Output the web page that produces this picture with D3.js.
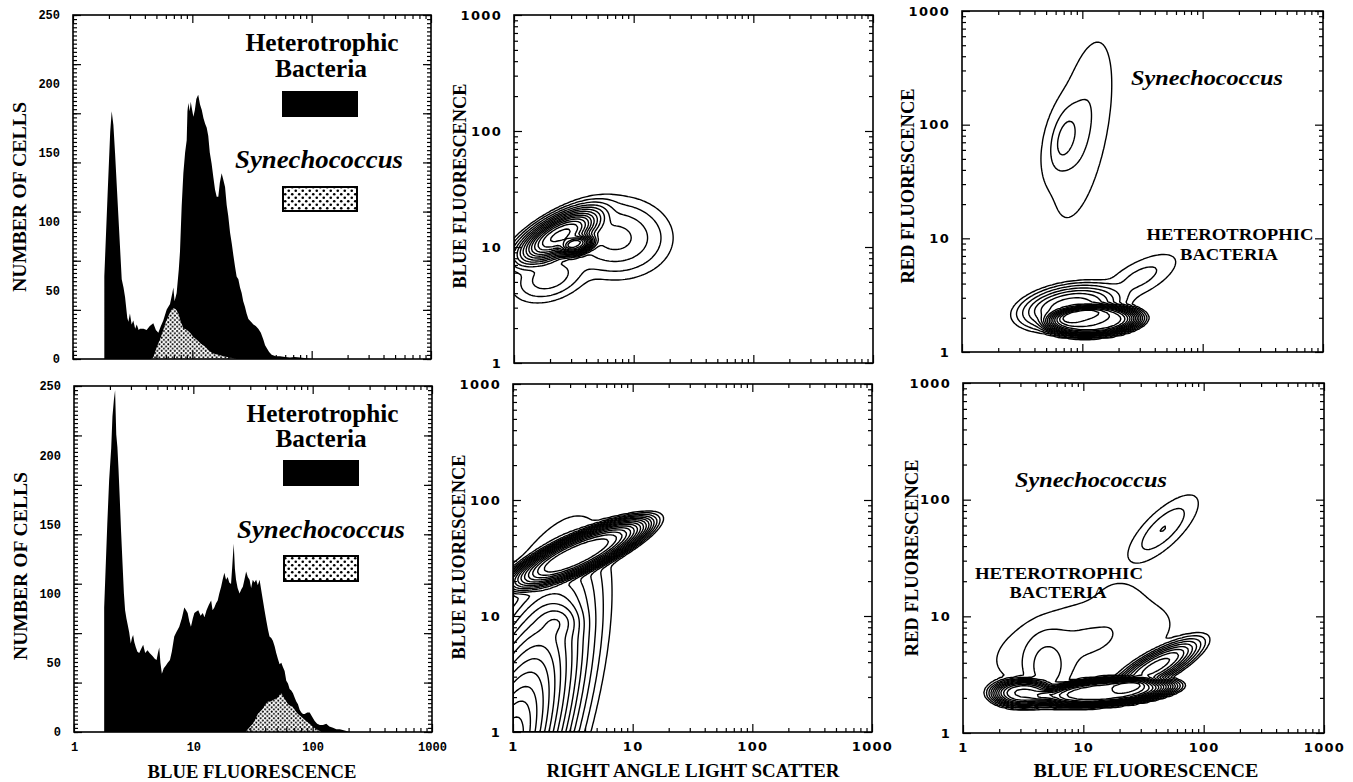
<!DOCTYPE html>
<meta charset="utf-8">
<style>
  body { margin: 0; background: #fff; }
  .tick line { stroke: #000; stroke-width: 1.2px; }
  .lab text { font-family: "Liberation Mono", monospace; font-weight: bold; fill: #000; }
  .lab2 text { font-family: "DejaVu Sans", sans-serif; font-weight: bold; fill: #000; letter-spacing: 1.3px; }
  .title { font-family: "Liberation Serif", serif; font-weight: bold; font-size: 19px; }
  .legend { font-family: "Liberation Serif", serif; font-weight: bold; }
  .contour { fill: none; stroke: #000; stroke-width: 1.4px; stroke-linejoin: round; }
</style>
<svg width="1353" height="782" id="fig"></svg>
<script src="https://d3js.org/d3.v7.min.js"></script>
<script>
// ---- histogram data: [blue fluorescence, number of cells] ----
var histTopTotal = [[1.83,0],[1.83,60],[1.95,120],[2.05,165],[2.11,180],[2.18,170],[2.25,150],[2.40,104],[2.56,58],[2.65,52],[2.73,45],[2.85,30],[2.91,27],[3.0,33],[3.1,25],[3.2,28],[3.32,22],[3.42,25],[3.55,21],[3.64,22],[3.9,22],[4.14,21],[4.4,24],[4.71,26],[4.95,21],[5.19,19],[5.45,24],[5.71,28],[6.1,36],[6.5,40],[6.8,48],[6.93,52],[7.1,42],[7.39,48],[7.7,65],[7.88,78],[8.14,111],[8.41,135],[8.7,150],[8.97,159],[9.1,180],[9.26,186],[9.5,180],[9.7,187],[9.87,183],[10.2,176],[10.5,181],[10.8,189],[11.2,192],[11.6,185],[12.0,181],[12.4,175],[12.8,171],[13.2,168],[13.6,162],[14.0,150],[14.5,142],[15.0,132],[15.5,123],[16.0,118],[16.5,118],[17.0,128],[17.6,135],[18.2,130],[18.8,125],[19.4,112],[20.0,104],[20.7,92],[21.4,84],[22.1,75],[22.8,67],[23.5,60],[24.3,58],[25.1,52],[25.9,48],[26.7,42],[27.6,38],[28.5,33],[29.5,29],[31,27],[32.5,25],[34,24],[35.7,22],[37.5,19],[39.4,14],[40.7,10],[42,8],[44,5],[46.2,3],[50,2],[54.3,2],[60,1.5],[65.8,1],[72,1.5],[79.8,1],[90,0.5],[100,0]];
var histTopSyn = [[4.5,0],[4.71,1],[5.0,8],[5.45,16],[5.71,21],[6.0,27],[6.3,31],[6.6,35],[6.93,37],[7.3,36],[7.64,33],[8.0,27],[8.4,22.5],[9.0,21],[9.57,19],[10.2,16],[10.9,14],[11.8,11],[12.8,9],[13.8,6],[15,4],[16.5,3],[18.2,2],[20.5,1],[23.5,0]];
var histBotTotal = [[1.79,0],[1.79,90],[1.9,150],[1.97,182],[2.05,205],[2.10,228],[2.16,240],[2.21,247],[2.26,215],[2.31,206],[2.36,190],[2.42,168],[2.48,145],[2.55,122],[2.62,100],[2.68,88],[2.75,82],[2.81,78],[2.9,72],[2.99,64],[3.06,68],[3.13,70],[3.2,65],[3.3,61],[3.4,58],[3.52,57],[3.65,60],[3.8,63],[3.95,57],[4.13,59],[4.3,57],[4.55,55],[4.75,53],[4.92,52],[5.05,57],[5.18,61],[5.3,50],[5.45,42],[5.65,46],[5.89,48],[6.1,50],[6.37,52],[6.6,58],[6.92,69],[7.2,72],[7.62,76],[8.0,82],[8.4,90],[8.7,88],[8.96,86],[9.25,80],[9.55,76],[9.9,82],[10.2,86],[10.6,87],[11.0,88],[11.5,84],[12.0,86],[12.4,83],[12.9,88],[13.5,92],[14.1,95],[14.5,88],[15.0,90],[15.5,93],[16.0,95],[16.5,100],[17.1,105],[17.6,110],[18.2,115],[18.8,110],[19.4,112],[20.0,108],[20.7,107],[21.2,120],[21.8,136],[22.3,118],[22.8,110],[23.5,104],[24.4,100],[25.2,103],[26.0,105],[26.8,110],[27.7,116],[28.6,112],[29.6,110],[30.5,104],[31.5,110],[32.5,108],[33.6,110],[34.7,106],[35.9,110],[37,103],[38.3,95],[39.5,88],[40.8,81],[42.2,74],[43.5,69],[45,68],[46.4,66],[48,62],[49.5,57],[51.1,53],[52.8,49],[54.6,50],[56.3,47],[58.2,44],[60.1,37],[62.1,35],[64.1,31],[66.2,30],[68.4,28],[70.6,25],[72.9,22],[75.3,20],[77.8,16],[80.4,14],[83,13],[85.7,13],[90,14],[94.4,14],[99,11],[104,8],[109,6],[115,5],[122,5],[130,6],[138,4],[148,3],[158,2],[169,2],[185,1],[205,0]];
var histBotSyn = [[27.5,0],[28.6,2],[30,4],[31.5,6],[33,9],[34.7,13],[36.5,15],[38.3,17],[40.2,20],[42.2,22],[44.3,22],[46.4,23],[48.7,24],[51.1,25],[53,27],[54.6,28],[56.3,26],[58.2,24],[60.1,22],[62.1,20],[65,19],[68.4,18],[72,15],[75.3,13],[79,11.5],[83,10],[88,8],[94.4,6],[100,4],[107,2],[113,1],[118,0]];

// ---- cytogram populations: [x centre, y centre, sd along axis (decades), sd across, axis angle (deg), weight, flatness] ----
var scatTopCells = [[2.4,12.5,0.25,0.1,30,0.6,1.5],[3.4,10.3,0.1,0.05,20,0.6,1.5],[7,12,0.2,0.15,0,0.06,1],[2.0,5.5,0.15,0.09,20,0.04,1]];
var scatTopLevels = [0.004,0.012,0.03,0.06,0.1,0.15,0.21,0.28,0.35,0.42,0.5,0.58,0.66,0.74,0.82,0.9];
var scatBotCells = [[0.8,0.5,0.75,0.21,72,1,1],[3.5,34,0.45,0.11,25,1,2],[2.4,9,0.1,0.08,0,0.08,1]];
var scatBotLevels = [0.01,0.02,0.035,0.055,0.08,0.11,0.15,0.2,0.26,0.33,0.41,0.5,0.6,0.7,0.8,0.9];
var redTopSyn = [[10,90,0.38,0.1,80,0.5,1],[7,75,0.18,0.07,78,1,1]];
var redTopSynLevels = [0.05,0.35,0.75];
var redTopHet = [[12,1.9,0.32,0.11,3,1,3],[8,2.5,0.25,0.11,10,0.3,1.5],[30,4.5,0.2,0.08,30,0.02,1]];
var redTopHetLevels = [0.004,0.012,0.03,0.06,0.1,0.15,0.21,0.28,0.35,0.43,0.51,0.59,0.67,0.75,0.83,0.9];
var redBotSyn = [[46,56,0.172,0.065,45,1,1]];
var redBotSynLevels = [0.08,0.4,0.985];
var redBotHet = [[15,2.25,0.45,0.09,5,1,3],[3.2,2.2,0.18,0.08,0,0.6,2],[40,3.7,0.24,0.07,30,0.35,1.5],[10,6,0.5,0.22,15,0.01,1],[20,14,0.12,0.12,0,0.004,1],[5,3.6,0.15,0.1,90,0.03,1]];
var redBotHetLevels = [0.003,0.008,0.02,0.04,0.07,0.11,0.16,0.22,0.29,0.37,0.45,0.53,0.61,0.69,0.77,0.85,0.92];

var countTicks = [0,50,100,150,200,250];
var logTicks = [1,10,100,1000];

var svg = d3.select("#fig");
var defs = svg.append("defs");

function dotPattern(id, w, r) {
  var p = defs.append("pattern").attr("id", id).attr("patternUnits", "userSpaceOnUse")
    .attr("width", w).attr("height", w);
  p.append("rect").attr("width", w).attr("height", w).attr("fill", "#fff");
  p.append("circle").attr("cx", w/4).attr("cy", w/4).attr("r", r).attr("fill", "#000");
  p.append("circle").attr("cx", 3*w/4).attr("cy", 3*w/4).attr("r", r).attr("fill", "#000");
}
dotPattern("dots", 4.4, 1.0);
dotPattern("dotsBig", 7, 1.3);

var panels = [
  {x0:73, x1:431, y0:15, y1:359, kind:"hist"},
  {x0:74, x1:432, y0:386, y1:732, kind:"hist"},
  {x0:514, x1:873, y0:15, y1:363, kind:"log"},
  {x0:513, x1:872, y0:384, y1:732, kind:"log"},
  {x0:962, x1:1323, y0:11, y1:352, kind:"log"},
  {x0:963, x1:1324, y0:383, y1:733, kind:"log"}
];

panels.forEach(function(p, i) {
  p.x = d3.scaleLog().domain([1, 1000]).range([p.x0, p.x1]);
  p.y = p.kind == "hist" ? d3.scaleLinear().domain([0, 250]).range([p.y1, p.y0])
                         : d3.scaleLog().domain([1, 1000]).range([p.y1, p.y0]);
  p.g = svg.append("g");
  defs.append("clipPath").attr("id", "clip" + i).append("rect")
    .attr("x", p.x0).attr("y", p.y0).attr("width", p.x1 - p.x0).attr("height", p.y1 - p.y0);
});

function isMajor(v) { return Math.abs(Math.log10(v) - Math.round(Math.log10(v))) < 1e-6; }

function tickSet(g, axisFn, scale, vals, size, tr) {
  g.append("g").attr("transform", tr)
    .call(axisFn(scale).tickValues(vals).tickSize(-size).tickSizeOuter(0).tickFormat(""))
    .call(function(s) { s.select(".domain").remove(); });
}

function frame(p) {
  var g = p.g;
  var xs = p.x.ticks();
  tickSet(g, d3.axisBottom, p.x, xs.filter(function(v){ return !isMajor(v); }), 4, "translate(0," + p.y1 + ")");
  tickSet(g, d3.axisBottom, p.x, xs.filter(isMajor), 8, "translate(0," + p.y1 + ")");
  tickSet(g, d3.axisTop, p.x, xs.filter(function(v){ return !isMajor(v); }), 4, "translate(0," + p.y0 + ")");
  tickSet(g, d3.axisTop, p.x, xs.filter(isMajor), 8, "translate(0," + p.y0 + ")");
  if (p.kind == "hist") {
    var minor = d3.range(0, 85).map(function(k){ return k * 250 / 84; });
    var major = minor.filter(function(v, k){ return k % 12 == 0; });
    [[d3.axisLeft, p.x0], [d3.axisRight, p.x1]].forEach(function(a) {
      tickSet(g, a[0], p.y, minor, 4, "translate(" + a[1] + ",0)");
      tickSet(g, a[0], p.y, major, 8, "translate(" + a[1] + ",0)");
    });
  } else {
    var ys = p.y.ticks();
    [[d3.axisLeft, p.x0], [d3.axisRight, p.x1]].forEach(function(a) {
      tickSet(g, a[0], p.y, ys.filter(function(v){ return !isMajor(v); }), 4, "translate(" + a[1] + ",0)");
      tickSet(g, a[0], p.y, ys.filter(isMajor), 8, "translate(" + a[1] + ",0)");
    });
  }
  g.append("rect").attr("x", p.x0).attr("y", p.y0).attr("width", p.x1 - p.x0).attr("height", p.y1 - p.y0)
    .attr("fill", "none").attr("stroke", "#000").attr("stroke-width", 1.6);
}

function labels(p, cls, size, pad, withX) {
  var ay = p.g.append("g").attr("class", cls).attr("transform", "translate(" + p.x0 + ",0)")
    .call(d3.axisLeft(p.y).tickValues(p.kind == "hist" ? countTicks : logTicks).tickSize(0).tickPadding(pad)
      .tickFormat(d3.format("d")));
  ay.select(".domain").remove();
  ay.selectAll("text").style("font-size", size + "px");
  if (withX) {
    var ax = p.g.append("g").attr("class", cls).attr("transform", "translate(0," + p.y1 + ")")
      .call(d3.axisBottom(p.x).tickValues(logTicks).tickSize(0).tickPadding(10).tickFormat(d3.format("d")));
    ax.select(".domain").remove();
    ax.selectAll("text").style("font-size", size + "px");
  }
}

// ---- histograms ----
function histogram(p, total, syn, i) {
  var area = d3.area().x(function(d){ return p.x(d[0]); }).y0(p.y(0)).y1(function(d){ return p.y(d[1]); });
  var c = p.g.append("g").attr("clip-path", "url(#clip" + i + ")");
  c.append("path").datum(total).attr("d", area).attr("fill", "#000");
  c.append("path").datum(syn).attr("d", area).attr("fill", "url(#dots)");
}
histogram(panels[0], histTopTotal, histTopSyn, 0);
histogram(panels[1], histBotTotal, histBotSyn, 1);

// ---- contour plots (density on a grid in log-log space) ----
var N = 160;
function density(cells) {
  var vals = new Float64Array(N * N);
  for (var j = 0; j < N; j++) {
    var ly = (j + 0.5) * 3 / N;
    for (var i = 0; i < N; i++) {
      var lx = (i + 0.5) * 3 / N, v = 0;
      cells.forEach(function(c) {
        var a = c[4] * Math.PI / 180;
        var dx = lx - Math.log10(c[0]), dy = ly - Math.log10(c[1]);
        var u = (dx * Math.cos(a) + dy * Math.sin(a)) / c[2];
        var w = (-dx * Math.sin(a) + dy * Math.cos(a)) / c[3];
        v += c[5] * Math.exp(-0.5 * Math.pow(u*u + w*w, c[6]));
      });
      vals[j * N + i] = v;
    }
  }
  return vals;
}
function contourPlot(p, cells, levels, i) {
  var vals = density(cells);
  var mx = d3.max(vals);
  var proj = d3.geoTransform({ point: function(gx, gy) {
    this.stream.point(p.x(Math.pow(10, gx * 3 / N)), p.y(Math.pow(10, gy * 3 / N)));
  }});
  var path = d3.geoPath(proj);
  var sets = d3.contours().size([N, N]).thresholds(levels.map(function(l){ return l * mx; }))(vals);
  p.g.append("g").attr("clip-path", "url(#clip" + i + ")").selectAll("path").data(sets).join("path")
    .attr("class", "contour").attr("d", path);
}
contourPlot(panels[2], scatTopCells, scatTopLevels, 2);
contourPlot(panels[3], scatBotCells, scatBotLevels, 3);
contourPlot(panels[4], redTopSyn, redTopSynLevels, 4);
contourPlot(panels[4], redTopHet, redTopHetLevels, 4);
contourPlot(panels[5], redBotSyn, redBotSynLevels, 5);
contourPlot(panels[5], redBotHet, redBotHetLevels, 5);

panels.forEach(frame);
labels(panels[0], "lab", 12, 13, false);
labels(panels[1], "lab", 12, 13, true);
labels(panels[2], "lab2", 13, 12, false);
labels(panels[3], "lab2", 13, 12, true);
labels(panels[4], "lab2", 13, 12, false);
labels(panels[5], "lab2", 13, 12, true);

// ---- axis titles ----
function title(txt, x, y, len, rot) {
  svg.append("text").attr("class", "title").attr("text-anchor", "middle")
    .attr("transform", "translate(" + x + "," + y + ")" + (rot ? " rotate(-90)" : ""))
    .attr("textLength", len).attr("lengthAdjust", "spacingAndGlyphs").text(txt);
}
title("NUMBER OF CELLS", 26, 197, 190, true);
title("NUMBER OF CELLS", 27, 566, 188, true);
title("BLUE FLUORESCENCE", 466, 186, 205, true);
title("BLUE FLUORESCENCE", 465, 557, 205, true);
title("RED FLUORESCENCE", 914, 186, 195, true);
title("RED FLUORESCENCE", 918, 558, 197, true);
title("BLUE  FLUORESCENCE", 252, 778, 209, false);
title("RIGHT ANGLE LIGHT SCATTER", 693, 777, 293, false);
title("BLUE FLUORESCENCE", 1146, 777, 225, false);

// ---- legends / labels ----
function label(txt, x, y, size, len, italic) {
  svg.append("text").attr("class", "legend").attr("text-anchor", "middle").attr("x", x).attr("y", y)
    .style("font-size", size + "px").style("font-style", italic ? "italic" : "normal")
    .attr("textLength", len).attr("lengthAdjust", "spacingAndGlyphs").text(txt);
}
label("Heterotrophic", 322, 51, 25, 153, false);
label("Bacteria", 321, 77, 25, 92, false);
svg.append("rect").attr("x", 282).attr("y", 91).attr("width", 76).attr("height", 26).attr("fill", "#000");
label("Synechococcus", 319, 168, 25, 168, true);
svg.append("rect").attr("x", 283).attr("y", 187).attr("width", 74).attr("height", 24)
  .attr("fill", "url(#dotsBig)").attr("stroke", "#000").attr("stroke-width", 2);

label("Heterotrophic", 322.5, 422, 25, 152, false);
label("Bacteria", 321, 447, 25, 91, false);
svg.append("rect").attr("x", 283).attr("y", 460).attr("width", 76).attr("height", 26).attr("fill", "#000");
label("Synechococcus", 321, 538, 25, 168, true);
svg.append("rect").attr("x", 284).attr("y", 556).attr("width", 74).attr("height", 25)
  .attr("fill", "url(#dotsBig)").attr("stroke", "#000").attr("stroke-width", 2);

label("Synechococcus", 1207, 85, 22, 152, true);
label("HETEROTROPHIC", 1230, 240, 16, 167, false);
label("BACTERIA", 1229, 260, 16, 98, false);
label("Synechococcus", 1091, 487, 22, 152, true);
label("HETEROTROPHIC", 1059, 579, 16, 168, false);
label("BACTERIA", 1058, 598, 16, 97, false);
</script>
